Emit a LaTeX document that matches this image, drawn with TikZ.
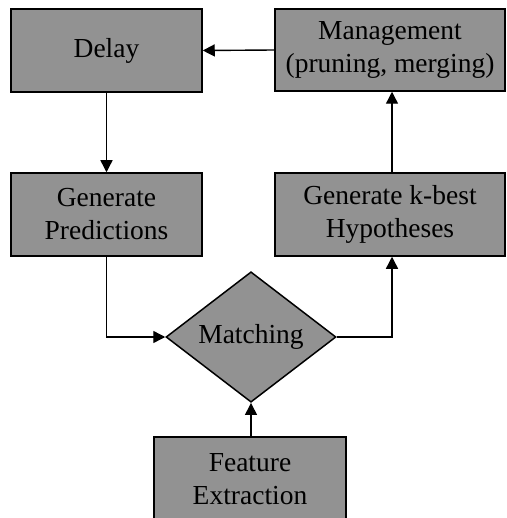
\documentclass[tikz,border=0pt]{standalone}
\usepackage{fontspec}
\setmainfont{Liberation Serif}
\usetikzlibrary{shapes.geometric,arrows.meta}
\definecolor{boxgray}{RGB}{146,146,146}
\tikzset{
  stagebox/.style={draw=black, line width=1.5pt, fill=boxgray, rectangle,
    align=center, inner sep=0pt, font=\fontsize{27.5}{33}\selectfont},
  matchbox/.style={draw=black, line width=1.5pt, fill=boxgray, diamond,
    inner sep=0pt, minimum width=170pt, minimum height=126pt,
    font=\fontsize{27.5}{33}\selectfont},
  flow/.style={line width=1.4pt, -{Triangle[length=12pt,width=12pt]}}
}
\begin{document}
\begin{tikzpicture}[x=1pt,y=-1pt]
    % Page frame
    \useasboundingbox (0,0) rectangle (506,518);
    \clip (0,0) rectangle (506,518);

    % Boxes
    \node[stagebox, minimum width=191pt, minimum height=83pt] (delay) at (106.5,50.5) {Delay};
    \node[stagebox, minimum width=230pt, minimum height=82pt] (manage) at (390,50) {Management\\(pruning, merging)};
    \node[stagebox, minimum width=191pt, minimum height=83pt] (predict) at (106.5,214.5) {Generate\\Predictions};
    \node[stagebox, minimum width=230pt, minimum height=83pt] (kbest) at (390,214.5) {Generate k-best\\Hypotheses};
    \node[matchbox] (match) at (251,337) {Matching};
    \node[stagebox, minimum width=192pt, minimum height=84pt] (feature) at (250,479) {Feature\\Extraction};

    % Connectors
    \draw[flow] (manage.west) -- (delay.east);
    \draw[flow] (delay.south) -- (predict.north);
    \draw[flow] (predict.south) |- (match.west);
    \draw[flow] (match.east) -| (kbest.south -| 392,0);
    \draw[flow] (kbest.north -| 392,0) -- (manage.south -| 392,0);
    \draw[flow] (feature.north -| match.south) -- (match.south);
\end{tikzpicture}
\end{document}
